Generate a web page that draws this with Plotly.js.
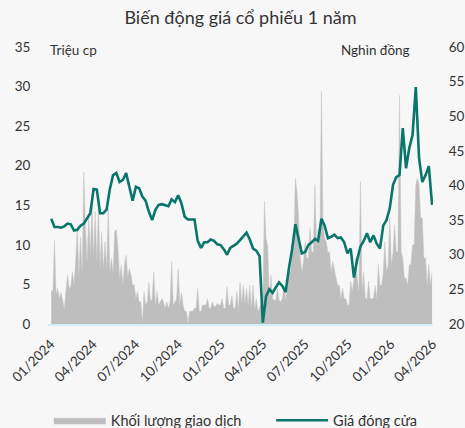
<!DOCTYPE html>
<html>
<head>
<meta charset="utf-8">
<script src="https://cdn.plot.ly/plotly-3.0.1.min.js"></script>
<style>html,body{margin:0;padding:0;background:#f7f7f7;}#chart{width:465px;height:428px;}</style>
</head>
<body>
<div id="chart"></div>
<script>
// Price: weekly observations from 2024-01-02; volume: twice-weekly (every 3.5 days) from 2024-01-02
const startDate = "2024-01-02";
const priceStepHours = 168;
const volumeStepHours = 84;

// Closing price (Nghìn đồng)
const closePrice = [
  35.2, 34.0, 34.0, 33.9, 34.1, 34.5, 34.4, 33.5, 33.6, 34.2,
  34.5, 35.2, 36.0, 39.5, 39.4, 36.0, 36.0, 36.5, 39.5, 41.5,
  41.8, 40.5, 40.8, 41.8, 39.8, 37.8, 39.8, 39.6, 38.4, 37.8,
  36.2, 35.0, 36.5, 37.2, 37.3, 37.2, 37.0, 38.0, 37.6, 38.6,
  37.4, 35.5, 35.1, 35.1, 35.1, 32.0, 31.0, 31.8, 31.8, 32.2,
  32.0, 31.5, 31.4, 30.8, 30.0, 31.0, 31.3, 31.6, 32.1, 32.6,
  33.2, 32.2, 30.9, 30.6, 29.8, 20.2, 24.0, 25.0, 24.5, 25.3,
  26.0, 25.5, 24.6, 28.0, 30.8, 34.4, 32.4, 30.2, 30.4, 31.4,
  31.8, 32.3, 32.0, 35.2, 34.2, 32.4, 32.6, 32.9, 32.4, 32.5,
  31.8, 30.2, 30.9, 26.7, 29.3, 31.2, 32.0, 33.1, 31.8, 32.8,
  31.6, 30.9, 34.2, 35.0, 36.7, 40.1, 41.2, 41.5, 48.3, 42.5,
  45.4, 47.3, 54.2, 44.0, 40.5, 41.5, 42.8, 37.2
];

// Trading volume (Triệu cp)
const volume = [
  4.3, 4.0, 10.6, 3.7, 4.5, 3.2, 4.0, 2.8, 2.0, 4.1,
  6.2, 4.5, 4.7, 6.6, 5.1, 7.9, 12.3, 6.2, 11.0, 6.6,
  19.2, 12.1, 7.9, 13.8, 8.7, 15.5, 8.5, 14.2, 8.0, 15.0,
  7.2, 11.7, 7.0, 10.4, 7.0, 14.6, 6.6, 8.3, 6.4, 11.7,
  11.9, 9.6, 5.8, 7.5, 5.0, 7.5, 8.7, 6.0, 7.0, 6.2,
  4.9, 5.0, 3.2, 4.1, 2.8, 2.8, 0.3, 4.1, 2.4, 2.8,
  5.3, 2.8, 3.2, 6.6, 2.4, 4.1, 2.4, 2.8, 3.2, 2.8,
  2.0, 2.8, 2.0, 2.8, 7.9, 2.4, 2.8, 3.2, 7.0, 2.4,
  4.0, 2.4, 1.6, 1.6, 0.1, 1.6, 1.6, 1.6, 2.0, 2.0,
  4.5, 1.6, 1.6, 2.4, 2.4, 2.4, 3.2, 2.0, 2.0, 2.8,
  2.2, 2.2, 2.6, 2.4, 2.4, 3.2, 2.0, 2.0, 4.7, 2.4,
  2.4, 3.6, 2.0, 2.0, 4.1, 1.8, 5.3, 2.6, 4.9, 2.6,
  4.5, 2.4, 4.9, 2.0, 4.9, 1.8, 3.2, 1.6, 2.0, 2.8,
  2.8, 15.5, 10.8, 9.9, 3.2, 6.2, 3.2, 3.0, 3.0, 4.5,
  3.0, 2.8, 3.2, 4.9, 3.0, 4.9, 7.5, 6.6, 9.1, 10.0,
  18.4, 16.7, 13.4, 8.3, 6.6, 7.9, 10.4, 8.3, 8.3, 12.1,
  9.1, 9.1, 17.6, 10.0, 12.0, 10.0, 29.4, 12.5, 10.8, 10.4,
  9.1, 9.1, 6.6, 7.9, 6.6, 5.8, 4.9, 4.9, 3.2, 4.5,
  3.2, 3.2, 2.4, 2.4, 5.4, 4.1, 5.8, 8.3, 5.8, 4.1,
  18.0, 4.1, 6.6, 3.2, 3.2, 5.4, 3.2, 3.2, 3.2, 4.9,
  3.2, 7.5, 4.9, 4.9, 6.6, 10.4, 6.6, 7.5, 13.4, 7.5,
  9.1, 12.5, 9.1, 9.1, 28.9, 9.1, 8.3, 5.8, 5.8, 4.9,
  7.5, 7.5, 10.0, 10.0, 17.6, 18.4, 17.6, 13.4, 13.4, 8.3,
  8.3, 4.9, 7.5, 4.9, 6.5
];

const tickDates = ["2024-01-01","2024-04-01","2024-07-01","2024-10-01","2025-01-01","2025-04-01","2025-07-01","2025-10-01","2026-01-01","2026-04-01"];
const tickLabels = ["01/2024","04/2024","07/2024","10/2024","01/2025","04/2025","07/2025","10/2025","01/2026","04/2026"];
const volTicks = [0,5,10,15,20,25,30,35];
const priceTicks = [20,25,30,35,40,45,50,55,60];

function buildDates(n, stepHours){
  const out = [];
  const t0 = Date.parse(startDate + "T00:00:00Z");
  for (let i = 0; i < n; i++) {
    const s = new Date(t0 + i*stepHours*3600000).toISOString();
    out.push(s.slice(0,10) + " " + s.slice(11,16));
  }
  return out;
}
const priceDates = buildDates(closePrice.length, priceStepHours);
const volumeDates = buildDates(volume.length, volumeStepHours);

const FONT = "Lato, 'Open Sans', sans-serif";

const traces = [
  {
    x: volumeDates, y: volume, type: "scatter", mode: "lines",
    name: "Khối lượng giao dịch",
    fill: "tozeroy", fillcolor: "#bebebe",
    line: {color: "#c6c6c6", width: 0.5},
    yaxis: "y", hoverinfo: "skip", legend: "legend"
  },
  {
    x: priceDates, y: closePrice, type: "scatter", mode: "lines",
    name: "Giá đóng cửa",
    line: {color: "#08766a", width: 2.6},
    yaxis: "y2", legend: "legend2"
  }
];

const legendFont = {family: FONT, size: 14.5, color: "#333333"};

const layout = {
  width: 465, height: 428,
  paper_bgcolor: "#f7f7f7", plot_bgcolor: "#f7f7f7",
  margin: {l: 48, r: 32, t: 47, b: 104},
  font: {family: FONT, size: 13, color: "#333333"},
  title: {text: "Biến động giá cổ phiếu 1 năm", font: {family: FONT, size: 18, color: "#333333"}, x: 0.5, xanchor: "center", xref: "paper", yref: "container", y: 0.958, yanchor: "middle", automargin: false},
  showlegend: true,
  legend: {orientation: "h", xref: "container", x: 0.105, xanchor: "left", yref: "container", y: 0.018, yanchor: "middle", font: legendFont, bgcolor: "rgba(0,0,0,0)", itemwidth: 52},
  legend2: {orientation: "h", xref: "container", x: 0.583, xanchor: "left", yref: "container", y: 0.018, yanchor: "middle", font: legendFont, bgcolor: "rgba(0,0,0,0)", itemwidth: 52},
  xaxis: {
    type: "date", range: ["2023-12-26", "2026-04-02"], automargin: false,
    tickvals: tickDates, ticktext: tickLabels, tickangle: -45,
    showgrid: false, zeroline: false, showline: true, linecolor: "#d3eef4", linewidth: 2,
    ticks: "outside", ticklen: 5, tickcolor: "rgba(0,0,0,0)",
    tickfont: {family: FONT, size: 13.5, color: "#333333"}, fixedrange: true
  },
  yaxis: {
    range: [0, 35], tickvals: volTicks, showgrid: false, zeroline: false, showline: false, automargin: false,
    ticks: "outside", ticklen: 14, tickcolor: "rgba(0,0,0,0)",
    tickfont: {family: FONT, size: 13.5, color: "#333333"}
  },
  yaxis2: {
    range: [20, 60], tickvals: priceTicks, overlaying: "y", side: "right", automargin: false,
    showgrid: false, zeroline: false, showline: false,
    ticks: "outside", ticklen: 12, tickcolor: "rgba(0,0,0,0)",
    tickfont: {family: FONT, size: 13.5, color: "#333333"}
  },
  annotations: [
    {text: "Triệu cp", xref: "paper", yref: "paper", x: 0.0, y: 0.988, xanchor: "left", yanchor: "middle", showarrow: false, font: {family: FONT, size: 13.5, color: "#333333"}},
    {text: "Nghìn đồng", xref: "paper", yref: "paper", x: 0.946, y: 0.988, xanchor: "right", yanchor: "middle", showarrow: false, font: {family: FONT, size: 13.5, color: "#333333"}}
  ]
};

Plotly.newPlot("chart", traces, layout, {displayModeBar: false, staticPlot: true});
</script>
</body>
</html>
